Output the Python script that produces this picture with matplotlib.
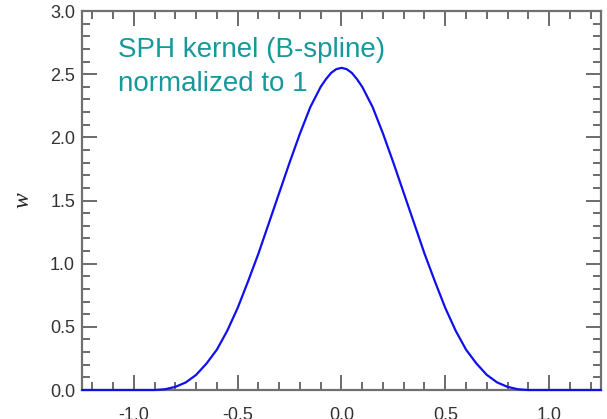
import matplotlib
matplotlib.use("Agg")
import matplotlib.pyplot as plt
from matplotlib.ticker import MultipleLocator, FormatStrFormatter

# kernel profile
x = [-1.25, -0.9, -0.85, -0.8, -0.75, -0.7, -0.65, -0.6, -0.55, -0.5, -0.45,
     -0.4, -0.35, -0.3, -0.25, -0.2, -0.15, -0.1, -0.075, -0.05, -0.025, 0.0,
     0.025, 0.05, 0.075, 0.1, 0.15, 0.2, 0.25, 0.3, 0.35, 0.4, 0.45, 0.5,
     0.55, 0.6, 0.65, 0.7, 0.75, 0.8, 0.85, 0.9, 1.25]
w = [0.0, 0.0, 0.006, 0.025, 0.06, 0.12, 0.21, 0.32, 0.47, 0.65, 0.86,
     1.08, 1.32, 1.56, 1.80, 2.03, 2.24, 2.40, 2.46, 2.51, 2.54, 2.55,
     2.54, 2.51, 2.46, 2.40, 2.24, 2.03, 1.80, 1.56, 1.32, 1.08, 0.86, 0.65,
     0.47, 0.32, 0.21, 0.12, 0.06, 0.025, 0.006, 0.0, 0.0]

label_text = "SPH kernel (B-spline)\nnormalized to 1"

fig = plt.figure(figsize=(6.07, 4.19), dpi=100)
ax = fig.add_axes([0.1351, 0.0692, 0.8549, 0.9045])

ax.plot(x, w, color="#1010ee", lw=1.6, solid_capstyle="round",
        solid_joinstyle="round", zorder=3, clip_on=False)

ax.set_xlim(-1.25, 1.25)
ax.set_ylim(0.0, 3.0)

ax.xaxis.set_major_locator(MultipleLocator(0.5))
ax.xaxis.set_minor_locator(MultipleLocator(0.1))
ax.yaxis.set_major_locator(MultipleLocator(0.5))
ax.yaxis.set_minor_locator(MultipleLocator(0.1))
ax.xaxis.set_major_formatter(FormatStrFormatter("%.1f"))
ax.yaxis.set_major_formatter(FormatStrFormatter("%.1f"))

for s in ax.spines.values():
    s.set_color("#707070")
    s.set_linewidth(1.6)

ax.tick_params(which="both", direction="in", top=True, right=True,
               color="#444444", width=1.1, labelsize=13,
               labelcolor="#333333")
ax.tick_params(which="major", length=11)
ax.tick_params(which="minor", length=6)
ax.tick_params(axis="y", pad=5)
ax.tick_params(axis="x", pad=12)

for lab in ax.get_xticklabels() + ax.get_yticklabels():
    lab.set_family("Liberation Sans")

# the 0.0 label sits above the axis line
fig.canvas.draw()
ax.get_yticklabels()[0].set_verticalalignment("bottom")

ax.set_ylabel("w", family="Liberation Serif", style="italic", fontsize=17,
              color="#222222", labelpad=12)

ax.text(0.069, 0.789, label_text, transform=ax.transAxes,
        color="#16999b", fontsize=20, family="Liberation Sans",
        va="baseline", ha="left", linespacing=1.42)

fig.savefig("out.png", dpi=100)
